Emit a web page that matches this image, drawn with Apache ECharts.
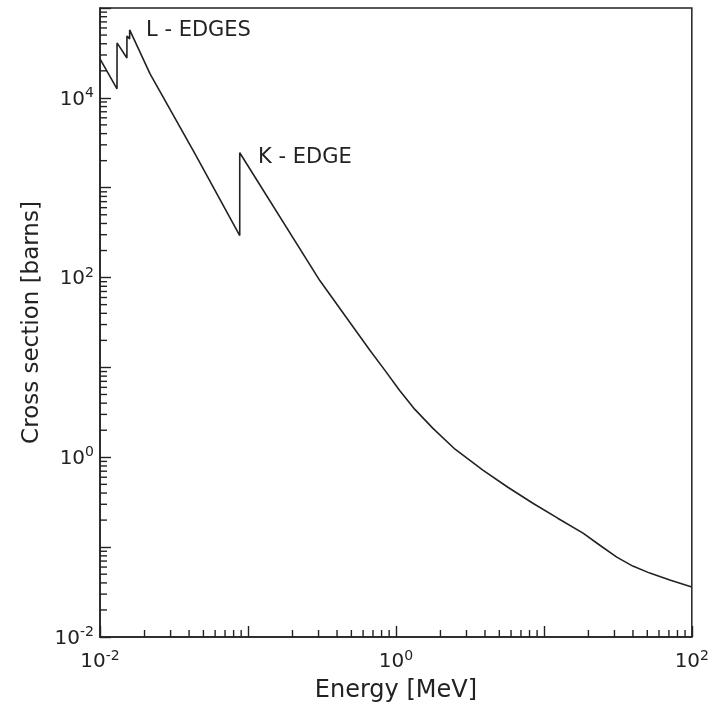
<!DOCTYPE html>
<html>
<head>
<meta charset="utf-8">
<script src="https://cdn.jsdelivr.net/npm/echarts@6/dist/echarts.min.js"></script>
<style>html,body{margin:0;padding:0;background:#fff;}#c{width:712px;height:712px;}</style>
</head>
<body>
<div id="c"></div>
<script>
// Photon energy (MeV) and cross section (barns)
var energy = [0.01, 0.01303, 0.01304, 0.0152, 0.01521, 0.01586, 0.01587, 0.0218, 0.0438, 0.0880, 0.08801,
              0.306, 0.489, 0.667, 0.843, 1.06, 1.343, 1.78, 2.51, 3.87, 5.71, 8.43, 12.4, 18.4, 23.9,
              31.1, 39.9, 52.0, 71.0, 100];
var crossSection = [2.71e4, 1.26e4, 4.09e4, 2.78e4, 4.89e4, 4.53e4, 5.7e4, 1.85e4, 2390, 293, 2450,
                    92.6, 31.6, 15.5, 9.27, 5.55, 3.41, 2.10, 1.23, 0.718, 0.464, 0.308, 0.210, 0.143, 0.105,
                    0.0774, 0.0615, 0.0514, 0.043, 0.036];
// axis ranges and tick decorations
var xDecades = [-2, -1, 0, 1];
var yDecades = [-2, -1, 0, 1, 2, 3, 4];
var minorMultipliers = [2, 3, 4, 5, 6, 7, 8, 9];
var xMin = 0.01, xMax = 100, yMin = 0.01, yMax = 1e5;
var labelledExponents = [-2, 0, 2, 4];

var curve = energy.map(function (e, i) { return [e, crossSection[i]]; });
var yMinorTicks = [], xMinorTicks = [];
yDecades.forEach(function (d) { minorMultipliers.forEach(function (m) { yMinorTicks.push([xMin, m * Math.pow(10, d)]); }); });
xDecades.forEach(function (d) { minorMultipliers.forEach(function (m) { xMinorTicks.push([m * Math.pow(10, d), yMin]); }); });

var FONT = 'DejaVu Sans';
var INK = '#222';
function powLabel(v) {
  var ex = Math.round(Math.log10(v));
  if (labelledExponents.indexOf(ex) < 0) return '';
  return '{b|10}{s|' + (ex < 0 ? '-' + (-ex) : ex) + '}';
}
var rich = {
  b: { fontSize: 20, fontFamily: FONT, color: INK, lineHeight: 21, verticalAlign: 'bottom' },
  s: { fontSize: 14, fontFamily: FONT, color: INK, verticalAlign: 'bottom', padding: [0, 0, 9, 0] }
};
function tickRenderer(vertical) {
  return function (params, api) {
    var p = api.coord([api.value(0), api.value(1)]);
    var len = 7;
    var shape = vertical
      ? { x1: p[0], y1: p[1], x2: p[0], y2: p[1] - len }
      : { x1: p[0], y1: p[1], x2: p[0] + len, y2: p[1] };
    return { type: 'line', shape: shape, style: { stroke: INK, lineWidth: 1.4 } };
  };
}

var chart = echarts.init(document.getElementById('c'), null, { renderer: 'canvas' });
chart.setOption({
  animation: false,
  backgroundColor: '#fff',
  grid: { left: 100, right: 19, top: 8, bottom: 75, show: true, borderColor: INK, borderWidth: 1.5, backgroundColor: 'transparent' },
  xAxis: {
    type: 'log', logBase: 10, min: xMin, max: xMax, interval: 1,
    name: 'Energy [MeV]', nameLocation: 'middle', nameGap: 42,
    nameTextStyle: { fontFamily: FONT, fontSize: 24, color: INK },
    axisLine: { lineStyle: { color: INK, width: 1.5 } },
    axisTick: { inside: true, length: 11, lineStyle: { color: INK, width: 1.4 } },
    axisLabel: { formatter: powLabel, rich: rich, margin: 12, showMinLabel: true, showMaxLabel: true },
    splitLine: { show: false }
  },
  yAxis: {
    type: 'log', logBase: 10, min: yMin, max: yMax, interval: 1,
    name: 'Cross section [barns]', nameLocation: 'middle', nameGap: 54, nameRotate: 90,
    nameTextStyle: { fontFamily: FONT, fontSize: 23, color: INK },
    axisLine: { lineStyle: { color: INK, width: 1.5 } },
    axisTick: { inside: true, length: 11, lineStyle: { color: INK, width: 1.4 } },
    axisLabel: { formatter: powLabel, rich: rich, margin: 6, showMinLabel: true, showMaxLabel: true },
    splitLine: { show: false }
  },
  series: [
    {
      type: 'line', data: curve, showSymbol: false, smooth: false,
      lineStyle: { color: INK, width: 1.6 }, silent: true
    },
    { type: 'custom', data: yMinorTicks, silent: true, clip: false, z: 5, renderItem: tickRenderer(false) },
    { type: 'custom', data: xMinorTicks, silent: true, clip: false, z: 5, renderItem: tickRenderer(true) }
  ],
  graphic: [
    { type: 'text', left: 146, top: 20, style: { text: 'L - EDGES', font: '21px "DejaVu Sans"', fill: INK } },
    { type: 'text', left: 258, top: 147, style: { text: 'K - EDGE', font: '21px "DejaVu Sans"', fill: INK } }
  ]
});
</script>
</body>
</html>
